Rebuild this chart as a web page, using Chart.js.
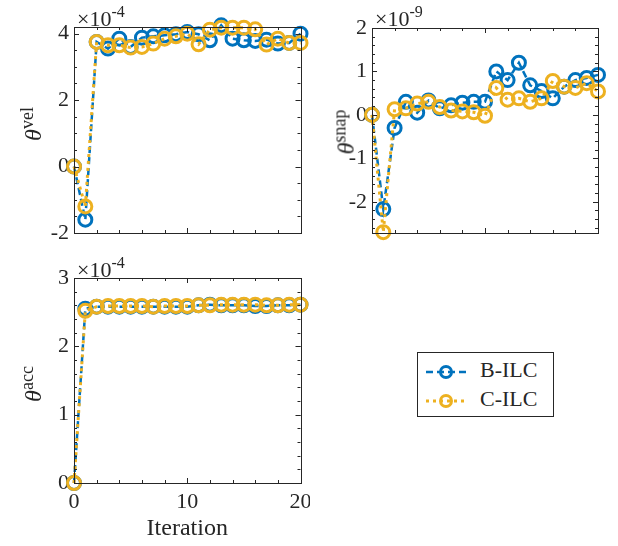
<!DOCTYPE html>
<html>
<head>
<meta charset="utf-8">
<script src="https://cdn.jsdelivr.net/npm/chart.js@4.4.0/dist/chart.umd.min.js"></script>
<style>
body { margin:0; background:#fff; width:618px; height:546px; position:relative; overflow:hidden; font-family:"Liberation Serif", serif; color:#262626; }
canvas { position:absolute; }
.lab { position:absolute; white-space:nowrap; font-size:22px; line-height:1; z-index:2; }
.lab sup { font-size:16px; vertical-align:9px; }
.ytitle { position:absolute; white-space:nowrap; font-size:24px; line-height:1; z-index:2; transform:translate(-50%,-50%) rotate(-90deg); }
.ytitle sup { font-size:18px; vertical-align:8px; }
#legend { position:absolute; left:417px; top:352px; width:135px; height:63px; border:1px solid #262626; background:#fff; z-index:3; }
#legend div { position:absolute; left:6px; height:28px; font-size:22px; line-height:28px; }
#legend svg { vertical-align:middle; margin-right:12px; }
</style>
</head>
<body>
<canvas id="cVel" width="310" height="245" style="left:0;top:0"></canvas>
<canvas id="cSnap" width="308" height="245" style="left:310px;top:0"></canvas>
<canvas id="cAcc" width="310" height="296" style="left:0;top:250px"></canvas>

<div class="lab" style="left:77px;top:4px">×10<sup>-4</sup></div>
<div class="lab" style="left:375px;top:4px">×10<sup>-9</sup></div>
<div class="lab" style="left:77px;top:255px">×10<sup>-4</sup></div>

<div class="ytitle" style="left:31px;top:124px"><i>θ</i><sup>vel</sup></div>
<div class="ytitle" style="left:344px;top:132px"><i>θ</i><sup>snap</sup></div>
<div class="ytitle" style="left:31px;top:384px"><i>θ</i><sup>acc</sup></div>

<div id="legend">
  <div style="top:3px"><svg width="44" height="16"><line x1="2" y1="8" x2="42" y2="8" stroke="#0072BD" stroke-width="2.5" stroke-dasharray="7 4"/><circle cx="22" cy="8" r="5.5" fill="none" stroke="#0072BD" stroke-width="3"/></svg>B-ILC</div>
  <div style="top:32px"><svg width="44" height="16"><line x1="2" y1="8" x2="42" y2="8" stroke="#EDB120" stroke-width="3" stroke-dasharray="3 4"/><circle cx="22" cy="8" r="5.5" fill="none" stroke="#EDB120" stroke-width="3"/></svg>C-ILC</div>
</div>

<script>
// iterations
const iters = [0,1,2,3,4,5,6,7,8,9,10,11,12,13,14,15,16,17,18,19,20];

// theta vel (x1e-4)
const velB = [0,-1.6,3.75,3.55,3.85,3.6,3.88,3.92,3.95,3.98,4.05,3.98,3.8,4.25,3.85,3.8,3.78,3.82,3.7,3.72,4.0];
const velC = [0,-1.2,3.75,3.65,3.65,3.58,3.6,3.7,3.85,3.92,4.0,3.68,4.12,4.18,4.18,4.18,4.13,3.67,3.85,3.72,3.72];

// theta snap (x1e-9)
const snapB = [0,-2.17,-0.3,0.3,0.05,0.33,0.15,0.22,0.28,0.3,0.3,1.0,0.8,1.2,0.68,0.55,0.38,0.65,0.8,0.85,0.92];
const snapC = [0,-2.7,0.13,0.15,0.26,0.3,0.18,0.1,0.08,0.06,-0.02,0.62,0.35,0.38,0.3,0.38,0.78,0.65,0.62,0.73,0.54];

// theta acc (x1e-4)
const accB = [0,2.55,2.58,2.58,2.58,2.58,2.58,2.58,2.58,2.58,2.58,2.6,2.61,2.6,2.6,2.6,2.59,2.59,2.6,2.6,2.61];
const accC = [0,2.52,2.58,2.59,2.59,2.59,2.59,2.58,2.59,2.59,2.59,2.6,2.6,2.61,2.61,2.61,2.61,2.6,2.6,2.61,2.61];

const xTicks = [0,10,20];
const velTicks = [-2,0,2,4];
const snapTicks = [-2,-1,0,1,2];
const accTicks = [0,1,2,3];

const BLUE = '#0072BD', YELLOW = '#EDB120', AX = '#262626';
const FONT = '"Liberation Serif", serif';

// matlab style box with inward ticks on all four sides
const boxPlugin = {
  id: 'mbox',
  afterDatasetsDraw(chart, args, o) {
    const ctx = chart.ctx, a = chart.chartArea, x = chart.scales.x, y = chart.scales.y;
    ctx.save();
    ctx.strokeStyle = AX;
    ctx.lineWidth = 1;
    ctx.beginPath();
    const minor = (s, step) => {
      let out = [];
      for (let v = Math.ceil(s.min / step - 1e-9) * step; v <= s.max + 1e-9; v += step) out.push(v);
      return out;
    };
    const xt = (vals, len) => vals.forEach(v => {
      const p = Math.round(x.getPixelForValue(v)) + 0.5;
      ctx.moveTo(p, a.bottom); ctx.lineTo(p, a.bottom - len);
      ctx.moveTo(p, a.top); ctx.lineTo(p, a.top + len);
    });
    const yt = (vals, len) => vals.forEach(v => {
      const p = Math.round(y.getPixelForValue(v)) + 0.5;
      ctx.moveTo(a.left, p); ctx.lineTo(a.left + len, p);
      ctx.moveTo(a.right, p); ctx.lineTo(a.right - len, p);
    });
    xt(minor(x, o.xMinor), 3);
    xt(o.xMajor, 5);
    yt(minor(y, o.yMinor), 3);
    yt(o.yMajor, 5);
    ctx.stroke();
    ctx.strokeRect(Math.round(a.left) + 0.5, Math.round(a.top) + 0.5, Math.round(a.right - a.left), Math.round(a.bottom - a.top));
    ctx.restore();
  }
};

function series(vals) {
  return iters.map((it, i) => ({ x: it, y: vals[i] }));
}

function makeChart(id, b, c, cfg) {
  return new Chart(document.getElementById(id), {
    type: 'line',
    data: {
      datasets: [
        { label: 'C-ILC', data: series(c), order: 0, borderColor: YELLOW, borderWidth: 3, borderDash: [3, 4],
          pointRadius: 6.5, pointBorderWidth: 3, pointBorderColor: YELLOW, pointBackgroundColor: 'rgba(0,0,0,0)', clip: false, tension: 0 },
        { label: 'B-ILC', data: series(b), order: 1, borderColor: BLUE, borderWidth: 2.5, borderDash: [7, 4],
          pointRadius: 6.5, pointBorderWidth: 3, pointBorderColor: BLUE, pointBackgroundColor: 'rgba(0,0,0,0)', clip: false, tension: 0 }
      ]
    },
    options: {
      responsive: false,
      animation: false,
      events: [],
      layout: { padding: cfg.pad },
      plugins: {
        legend: { display: false },
        tooltip: { enabled: false },
        mbox: { xMajor: xTicks, xMinor: 2, yMajor: cfg.yTicks, yMinor: cfg.yMinor }
      },
      scales: {
        x: {
          type: 'linear', min: 0, max: 20,
          afterBuildTicks: s => { s.ticks = xTicks.map(v => ({ value: v })); },
          afterFit: s => { s.height = cfg.xh; s.paddingLeft = 0; s.paddingRight = 0; },
          grid: { display: false, drawTicks: false },
          border: { display: false },
          ticks: { display: cfg.showX, color: AX, font: { family: FONT, size: 22 }, padding: 6, maxRotation: 0 },
          title: { display: cfg.showX, text: 'Iteration', color: AX, font: { family: FONT, size: 24 }, padding: { top: 0, bottom: 3 } }
        },
        y: {
          type: 'linear', min: cfg.yMin, max: cfg.yMax,
          afterBuildTicks: s => { s.ticks = cfg.yTicks.map(v => ({ value: v })); },
          afterFit: s => { s.width = cfg.yw; s.paddingTop = 0; s.paddingBottom = 0; },
          grid: { display: false, drawTicks: false },
          border: { display: false },
          ticks: { color: AX, font: { family: FONT, size: 22 }, padding: 5 }
        }
      }
    },
    plugins: [boxPlugin]
  });
}

makeChart('cVel', velB, velC, { pad: { left: 0, right: 8, top: 27, bottom: 12 }, yw: 74, xh: 0, showX: false,
  yMin: -2, yMax: 4.2, yTicks: velTicks, yMinor: 0.5 });
makeChart('cSnap', snapB, snapC, { pad: { left: 0, right: 20, top: 28, bottom: 12 }, yw: 62, xh: 0, showX: false,
  yMin: -2.72, yMax: 2, yTicks: snapTicks, yMinor: 0.2 });
makeChart('cAcc', accB, accC, { pad: { left: 0, right: 8, top: 28, bottom: 0 }, yw: 74, xh: 63, showX: true,
  yMin: 0, yMax: 3, yTicks: accTicks, yMinor: 0.2 });
</script>
</body>
</html>
